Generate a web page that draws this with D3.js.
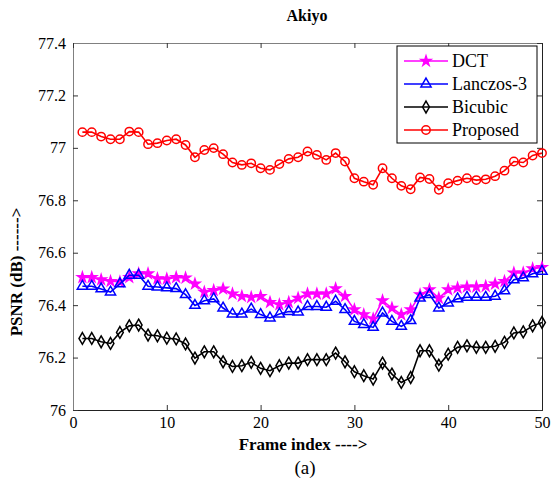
<!DOCTYPE html>
<html>
<head>
<meta charset="utf-8">
<script src="https://cdn.jsdelivr.net/npm/d3@7"></script>
<style>
  body { margin: 0; background: #fff; }
  text { font-family: "Liberation Serif", "DejaVu Serif", serif; }
</style>
</head>
<body>
<div id="chart"></div>
<script>
const frames = d3.range(1, 51);

const dct = [76.506, 76.506, 76.497, 76.491, 76.489, 76.506, 76.52, 76.52, 76.501, 76.50,
  76.506, 76.504, 76.481, 76.45, 76.456, 76.462, 76.443, 76.434, 76.43, 76.434,
  76.411, 76.402, 76.411, 76.427, 76.443, 76.443, 76.443, 76.463, 76.434, 76.383,
  76.364, 76.348, 76.417, 76.389, 76.364, 76.383, 76.44, 76.459, 76.427, 76.459,
  76.466, 76.47, 76.47, 76.472, 76.481, 76.491, 76.523, 76.523, 76.539, 76.544];

const lanczos = [76.472, 76.472, 76.462, 76.45, 76.481, 76.514, 76.514, 76.472, 76.469, 76.466,
  76.463, 76.44, 76.399, 76.417, 76.424, 76.389, 76.366, 76.366, 76.385, 76.364,
  76.351, 76.366, 76.376, 76.374, 76.395, 76.395, 76.392, 76.415, 76.383, 76.338,
  76.326, 76.315, 76.37, 76.338, 76.319, 76.341, 76.427, 76.44, 76.389, 76.408,
  76.424, 76.43, 76.43, 76.43, 76.434, 76.455, 76.497, 76.504, 76.52, 76.529];

const bicubic = [76.273, 76.273, 76.26, 76.254, 76.296, 76.321, 76.324, 76.286, 76.283, 76.274,
  76.271, 76.252, 76.198, 76.222, 76.222, 76.184, 76.166, 76.169, 76.182, 76.159,
  76.15, 76.169, 76.179, 76.179, 76.192, 76.192, 76.192, 76.217, 76.184, 76.146,
  76.131, 76.118, 76.179, 76.137, 76.105, 76.124, 76.226, 76.226, 76.171, 76.213,
  76.239, 76.245, 76.239, 76.239, 76.243, 76.258, 76.294, 76.298, 76.321, 76.334];

const proposed = [77.06, 77.06, 77.043, 77.033, 77.033, 77.062, 77.06, 77.014, 77.018, 77.028,
  77.033, 77.011, 76.964, 76.992, 76.999, 76.976, 76.944, 76.935, 76.941, 76.922,
  76.916, 76.938, 76.958, 76.964, 76.986, 76.973, 76.954, 76.98, 76.948, 76.884,
  76.871, 76.859, 76.922, 76.884, 76.855, 76.842, 76.887, 76.881, 76.84, 76.865,
  76.875, 76.884, 76.877, 76.88, 76.892, 76.913, 76.948, 76.944, 76.971, 76.98];

const xTicks = [0, 10, 20, 30, 40, 50];
const yTicks = [76, 76.2, 76.4, 76.6, 76.8, 77, 77.2, 77.4];

const series = [
  { name: "DCT", values: dct, color: "#ff00ff", symbol: "star" },
  { name: "Lanczos-3", values: lanczos, color: "#0000ff", symbol: "triangle" },
  { name: "Bicubic", values: bicubic, color: "#000000", symbol: "diamond" },
  { name: "Proposed", values: proposed, color: "#ff0000", symbol: "circle" }
];

const width = 557, height = 495;
const svg = d3.select("#chart").append("svg")
  .attr("width", width)
  .attr("height", height);

const x = d3.scaleLinear().domain([0, 50]).range([73, 542]);
const y = d3.scaleLinear().domain([76, 77.4]).range([410, 43]);

// axes with inward ticks, box on all four sides
const tickLen = 5;
svg.append("g")
  .attr("transform", `translate(0,${y(76)})`)
  .call(d3.axisBottom(x).tickValues(xTicks).tickSize(-tickLen).tickPadding(7).tickFormat(d3.format("d")))
  .call(g => g.select(".domain").attr("stroke", "#222"));
svg.append("g")
  .attr("transform", `translate(${x(0)},0)`)
  .call(d3.axisLeft(y).tickValues(yTicks).tickSize(-tickLen).tickPadding(7).tickFormat(d => d3.format("")(+d.toFixed(1))))
  .call(g => g.select(".domain").attr("stroke", "#808080"));
svg.append("g")
  .attr("transform", `translate(0,${y(77.4)})`)
  .call(d3.axisTop(x).tickValues(xTicks).tickSize(-tickLen).tickFormat(""))
  .call(g => g.select(".domain").attr("stroke", "#808080"));
svg.append("g")
  .attr("transform", `translate(${x(50)},0)`)
  .call(d3.axisRight(y).tickValues(yTicks).tickSize(-tickLen).tickFormat(""))
  .call(g => g.select(".domain").attr("stroke", "#222"));

svg.selectAll(".tick text")
  .attr("font-family", "Liberation Serif, serif")
  .attr("font-size", 16)
  .attr("fill", "#000");
svg.selectAll(".tick line").attr("stroke", "#333");

const symbols = {
  star: d3.symbol(d3.symbolStar, 30),
  triangle: d3.symbol(d3.symbolTriangle, 45),
  diamond: d3.symbol(d3.symbolDiamond, 40),
  circle: d3.symbol(d3.symbolCircle, 55)
};

const line = d3.line().x((d, i) => x(frames[i])).y(d => y(d));

series.forEach(s => {
  const g = svg.append("g");
  g.append("path")
    .attr("d", line(s.values))
    .attr("fill", "none")
    .attr("stroke", s.color)
    .attr("stroke-width", 1.6);
  g.selectAll("path.m")
    .data(s.values)
    .join("path")
    .attr("class", "m")
    .attr("transform", (d, i) => `translate(${x(frames[i])},${y(d)})`)
    .attr("d", symbols[s.symbol]())
    .attr("fill", s.symbol === "star" ? s.color : "none")
    .attr("stroke", s.color)
    .attr("stroke-width", 1.5);
});

// legend
const lg = svg.append("g");
lg.append("rect")
  .attr("x", 397).attr("y", 46)
  .attr("width", 140).attr("height", 97)
  .attr("fill", "#fff")
  .attr("stroke", "#000")
  .attr("stroke-width", 1);
series.forEach((s, i) => {
  const ly = 61 + i * 23;
  lg.append("line")
    .attr("x1", 404).attr("x2", 448)
    .attr("y1", ly).attr("y2", ly)
    .attr("stroke", s.color).attr("stroke-width", 1.6);
  lg.append("path")
    .attr("transform", `translate(426,${ly})`)
    .attr("d", symbols[s.symbol]())
    .attr("fill", s.symbol === "star" ? s.color : "none")
    .attr("stroke", s.color)
    .attr("stroke-width", 1.5);
  lg.append("text")
    .attr("x", 452).attr("y", ly + 6)
    .attr("font-size", 18)
    .text(s.name);
});

// titles
svg.append("text")
  .attr("x", 307).attr("y", 21)
  .attr("text-anchor", "middle")
  .attr("font-size", 16).attr("font-weight", "bold")
  .text("Akiyo");

svg.append("text")
  .attr("x", 303).attr("y", 450)
  .attr("text-anchor", "middle")
  .attr("font-size", 17).attr("font-weight", "bold")
  .text("Frame index ---->");

svg.append("text")
  .attr("transform", `translate(22,272) rotate(-90)`)
  .attr("text-anchor", "middle")
  .attr("font-size", 17).attr("font-weight", "bold")
  .text("PSNR (dB) ------>");

svg.append("text")
  .attr("x", 305).attr("y", 474)
  .attr("text-anchor", "middle")
  .attr("font-size", 19)
  .text("(a)");
</script>
</body>
</html>
